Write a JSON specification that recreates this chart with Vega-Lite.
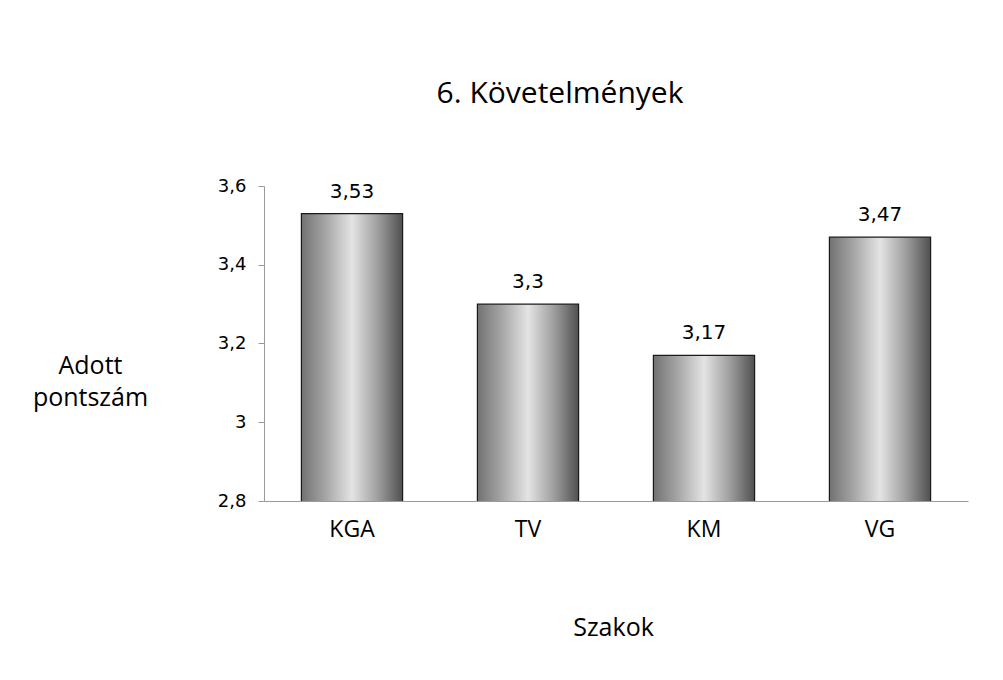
{
  "$schema": "https://vega.github.io/schema/vega-lite/v6.json",
  "autosize": {"type": "none"},
  "width": 704,
  "height": 315,
  "padding": {"left": 264, "top": 186, "right": 35, "bottom": 179},
  "background": "white",
  "title": {
    "text": "6. Követelmények",
    "font": "Open Sans",
    "fontSize": 30,
    "fontWeight": "normal",
    "color": "#000000",
    "anchor": "middle",
    "frame": "group",
    "dx": -56,
    "offset": 68
  },
  "data": {
    "values": [
      {"szak": "KGA", "pont": 3.53},
      {"szak": "TV", "pont": 3.3},
      {"szak": "KM", "pont": 3.17},
      {"szak": "VG", "pont": 3.47}
    ]
  },
  "encoding": {
    "x": {
      "field": "szak",
      "type": "nominal",
      "sort": null,
      "scale": {"paddingInner": 0.425, "paddingOuter": 0.2125},
      "axis": {
        "title": "Szakok",
        "titleFont": "Open Sans",
        "titleFontSize": 25,
        "titleFontWeight": "normal",
        "titleColor": "#000000",
        "titleX": 349,
        "titleY": 134,
        "titleAlign": "center",
        "titleBaseline": "alphabetic",
        "labelAngle": 0,
        "labelFont": "Open Sans",
        "labelFontSize": 23,
        "labelColor": "#000000",
        "labelPadding": 17,
        "ticks": false,
        "tickSize": 0,
        "domainColor": "#9a9a9a",
        "domainWidth": 1,
        "zindex": 1
      }
    },
    "y": {
      "field": "pont",
      "type": "quantitative",
      "scale": {"domain": [2.8, 3.6], "zero": false, "nice": false},
      "axis": {
        "values": [2.8, 3, 3.2, 3.4, 3.6],
        "format": "~g",
        "grid": false,
        "title": ["Adott", "pontszám"],
        "titleFont": "Open Sans",
        "titleFontSize": 25,
        "titleFontWeight": "normal",
        "titleColor": "#000000",
        "titleAngle": 0,
        "titleAlign": "center",
        "titleBaseline": "alphabetic",
        "titleX": -174,
        "titleY": 187,
        "titleLineHeight": 32,
        "labelFont": "DejaVu Sans",
        "labelFontSize": 18,
        "labelColor": "#000000",
        "labelPadding": 12,
        "tickSize": 6,
        "tickColor": "#9a9a9a",
        "domainColor": "#9a9a9a",
        "domainWidth": 1
      }
    }
  },
  "layer": [
    {
      "mark": {
        "type": "bar",
        "clip": true,
        "stroke": "#1a1a1a",
        "strokeWidth": 1.2,
        "color": {
          "gradient": "linear",
          "x1": 0, "y1": 0, "x2": 1, "y2": 0,
          "stops": [
            {"offset": 0, "color": "#727272"},
            {"offset": 0.25, "color": "#a8a8a8"},
            {"offset": 0.5, "color": "#e4e4e4"},
            {"offset": 0.75, "color": "#a0a0a0"},
            {"offset": 1, "color": "#505050"}
          ]
        }
      }
    },
    {
      "mark": {
        "type": "text",
        "font": "DejaVu Sans",
        "fontSize": 20,
        "color": "#000000",
        "baseline": "alphabetic",
        "dy": -16
      },
      "encoding": {
        "text": {"field": "pont", "type": "quantitative", "format": "~g"}
      }
    }
  ],
  "config": {
    "locale": {
      "number": {
        "decimal": ",",
        "thousands": " ",
        "grouping": [3],
        "currency": ["", " Ft"]
      }
    },
    "view": {"stroke": null}
  }
}
